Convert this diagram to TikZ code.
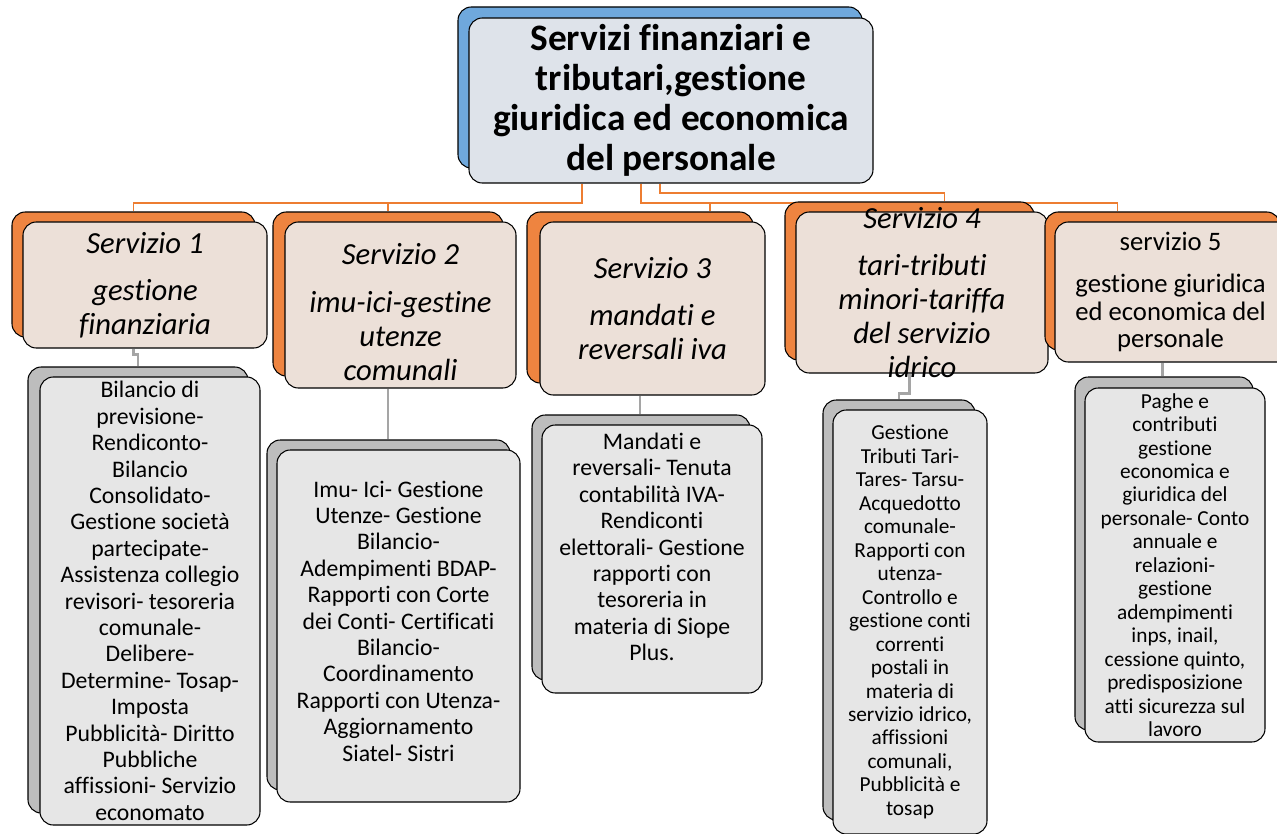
\documentclass[tikz,border=0pt]{standalone}
\usepackage{fontspec}
\setmainfont{Carlito}[Ligatures=NoCommon]
\usetikzlibrary{positioning}
\usetikzlibrary{fit}
\usetikzlibrary{calc}
\usetikzlibrary{backgrounds}
\definecolor{blueback}{HTML}{6FA8DC}
\definecolor{orangeback}{HTML}{EE8440}
\definecolor{greyback}{HTML}{BDBDBD}
\definecolor{bluefront}{HTML}{DEE3EA}
\definecolor{orangefront}{HTML}{ECE0D8}
\definecolor{greyfront}{HTML}{E6E6E6}
\definecolor{linkorange}{HTML}{ED7D31}
\definecolor{stemgrey}{HTML}{A5A5A5}
\tikzset{box/.style={draw, rounded corners=10pt, inner sep=0pt, line width=0.8pt}}
\tikzset{headback/.style={box, fill=blueback}}
\tikzset{headfront/.style={box, fill=bluefront}}
\tikzset{servback/.style={box, fill=orangeback}}
\tikzset{servfront/.style={box, fill=orangefront}}
\tikzset{taskback/.style={box, fill=greyback}}
\tikzset{taskfront/.style={box, fill=greyfront}}
\tikzset{headtext/.style={align=center, inner sep=0pt, font=\fontsize{28}{30}\selectfont\bfseries}}
\tikzset{servtext/.style={align=center, inner sep=0pt, font=\fontsize{23}{25.5}\selectfont\itshape}}
\tikzset{servplain/.style={align=center, inner sep=0pt, font=\fontsize{20}{20.6}\selectfont}}
\tikzset{tasktext/.style={align=center, inner sep=0pt, font=\fontsize{17.8}{19.8}\selectfont}}
\tikzset{tasksmall/.style={align=center, inner sep=0pt, font=\fontsize{16}{17.6}\selectfont}}
\tikzset{link/.style={linkorange, line width=1.2pt}}
\tikzset{stem/.style={stemgrey, line width=2.2pt}}

\begin{document}
\begin{tikzpicture}[x=0.75pt, y=-0.75pt]
\useasboundingbox (0,0) rectangle (1277,834);
\clip (0,0) rectangle (1277,834);

\node[headback, fit={(458,7) (862,168)}] (rootb) {};
\node[headfront, fit={(469,18) (873,183)}] (root) {};
\node[headtext] (roott) at (root) {Servizi finanziari e\\tributari,gestione\\giuridica ed economica\\del personale};

\node[servback, fit={(12,212) (255,337)}] (s1b) {};
\node[servfront, fit={(23,222) (267,348)}] (s1) {};
\node[servtext] (s1t) at (s1) {Servizio 1\\[10pt]gestione\\finanziaria};

\node[servback, fit={(273,212) (503,376)}] (s2b) {};
\node[servfront, fit={(285,222) (516,388)}] (s2) {};
\node[servtext] (s2t) at ($(s2)+(0,7)$) {Servizio 2\\[10pt]imu-ici-gestine\\utenze\\comunali};

\node[servback, fit={(527,212) (753,383)}] (s3b) {};
\node[servfront, fit={(540,222) (765,395)}] (s3) {};
\node[servtext] (s3t) at (s3) {Servizio 3\\[10pt]mandati e\\reversali iva};

\node[servback, fit={(785,202) (1034,360)}] (s4b) {};
\node[servfront, fit={(796,212) (1048,373)}] (s4) {};
\node[servtext] (s4t) at (s4) {Servizio 4\\[10pt]tari-tributi\\minori-tariffa\\del servizio\\idrico};

\node[servback, fit={(1045,212) (1280,350)}] (s5b) {};
\node[servfront, fit={(1055,222) (1292,362)}] (s5) {};
\node[servplain] (s5t) at ($(s5)+(-3,0)$) {servizio 5\\[11pt]gestione giuridica\\ed economica del\\personale};

\node[taskback, fit={(28,367) (248,813)}] (d1b) {};
\node[taskfront, fit={(40,377) (260,825)}] (d1) {};
\node[tasktext] (d1t) at (d1) {Bilancio di\\previsione-\\Rendiconto-\\Bilancio\\Consolidato-\\Gestione società\\partecipate-\\Assistenza collegio\\revisori- tesoreria\\comunale-\\Delibere-\\Determine- Tosap-\\Imposta\\Pubblicità- Diritto\\Pubbliche\\affissioni- Servizio\\economato};

\node[taskback, fit={(267,440) (510,790)}] (d2b) {};
\node[taskfront, fit={(277,450) (520,802)}] (d2) {};
\node[tasktext] (d2t) at ($(d2)+(0,-5)$) {Imu- Ici- Gestione\\Utenze- Gestione\\Bilancio-\\Adempimenti BDAP-\\Rapporti con Corte\\dei Conti- Certificati\\Bilancio-\\Coordinamento\\Rapporti con Utenza-\\Aggiornamento\\Siatel- Sistri};

\node[taskback, fit={(532,415) (750,680)}] (d3b) {};
\node[taskfront, fit={(542,425) (762,693)}] (d3) {};
\node[tasktext] (d3t) at ($(d3)+(0,-12)$) {Mandati e\\reversali- Tenuta\\contabilità IVA-\\Rendiconti\\elettorali- Gestione\\rapporti con\\tesoreria in\\materia di Siope\\Plus.};

\node[taskback, fit={(823,400) (975,820)}] (d4b) {};
\node[taskfront, fit={(833,410) (987,834)}] (d4) {};
\node[tasksmall] (d4t) at (d4) {Gestione\\Tributi Tari-\\Tares- Tarsu-\\Acquedotto\\comunale-\\Rapporti con\\utenza-\\Controllo e\\gestione conti\\correnti\\postali in\\materia di\\servizio idrico,\\affissioni\\comunali,\\Pubblicità e\\tosap};

\node[taskback, fit={(1075,377) (1253,730)}] (d5b) {};
\node[taskfront, fit={(1085,388) (1265,742)}] (d5) {};
\node[tasksmall] (d5t) at (d5) {Paghe e\\contributi\\gestione\\economica e\\giuridica del\\personale- Conto\\annuale e\\relazioni-\\gestione\\adempimenti\\inps, inail,\\cessione quinto,\\predisposizione\\atti sicurezza sul\\lavoro};

\begin{scope}[on background layer]
\fill[white] (0,0) rectangle (1277,834);
\coordinate (busL) at (582,203);
\coordinate (busR) at (641,203);
\coordinate (busT) at (660,193);
\draw[link] (root.south -| busL) -- (busL) -| (s1b.north);
\draw[link] (busL -| s2b.north) -- (s2b.north);
\draw[link] (root.south -| busR) -- (busR) -| ($(s5b.north)+(-45,0)$);
\draw[link] ($(s3b.north)+(70,-9)$) -- ($(s3b.north)+(70,0)$);
\draw[link] (root.south -| busT) -- (busT) -| ($(s4b.north)+(35,0)$);
\draw[stem] (s1b.south |- s1.south) -- ++(0,6) -| (d1b.north);
\draw[stem] (s2b.south |- s2.south) -- (s2b.south |- d2b.north);
\draw[stem] (s3b.south |- s3.south) -- (s3b.south |- d3b.north);
\draw[stem] (s4b.south |- s4.south) -- ++(0,20) -| (d4b.north);
\draw[stem] (s5b.south |- s5.south) -- (s5b.south |- d5b.north);
\end{scope}
\end{tikzpicture}
\end{document}
